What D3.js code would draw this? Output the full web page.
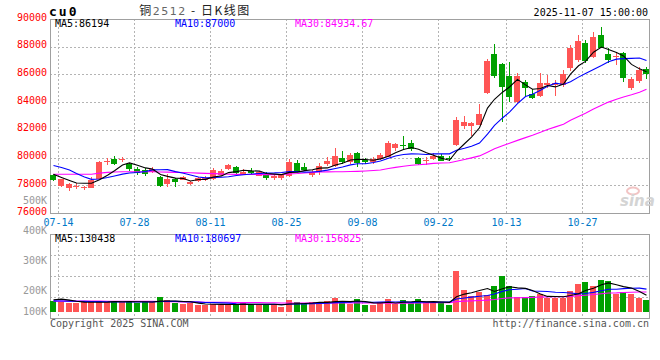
<!DOCTYPE html>
<html><head><meta charset="utf-8">
<script src="https://cdn.jsdelivr.net/npm/d3@7"></script>
<style>html,body{margin:0;padding:0;background:#fff;}svg{display:block;}</style>
</head><body>
<svg id="c" width="660" height="360"></svg>
<script>
// ---------------- data ----------------
const dates = ["07-14","07-15","07-16","07-17","07-18","07-21","07-22","07-23","07-24","07-25",
"07-28","07-29","07-30","07-31","08-01","08-04","08-05","08-06","08-07","08-08",
"08-11","08-12","08-13","08-14","08-15","08-18","08-19","08-20","08-21","08-22",
"08-25","08-26","08-27","08-28","08-29","09-01","09-02","09-03","09-04","09-05",
"09-08","09-09","09-10","09-11","09-12","09-15","09-16","09-17","09-18","09-19",
"09-22","09-23","09-24","09-25","09-26","09-29","09-30","10-09","10-10","10-13",
"10-14","10-15","10-16","10-17","10-20","10-21","10-22","10-23","10-24","10-27",
"10-28","10-29","10-30","10-31","11-03","11-04","11-05","11-06","11-07"];
const tickLabels = ["07-14","07-28","08-11","08-25","09-08","09-22","10-13","10-27"];
const open = [78740,77970,77830,77900,77810,77800,78430,79720,79880,79880,
79510,79180,79100,78950,78620,78090,78450,78380,78090,78310,
78400,78440,78740,79150,79340,78750,79000,78700,78750,78520,
78500,78670,79580,79340,78750,78980,79560,79390,79990,79700,
80350,79830,79700,79880,80060,80710,80930,81030,79990,79780,
79880,80110,80000,80910,82300,82280,82350,84640,87470,86750,
85890,84030,85480,84590,84440,85240,85250,85240,86440,87040,
88290,87280,88850,87470,87240,87570,85000,85550,86370];
const high = [78850,78480,78150,78140,77970,78580,79780,79990,80140,80060,
79590,79300,79250,79300,78650,78820,78510,78650,78290,78600,
78640,79250,79200,79560,79400,79140,79240,79000,78930,78780,
78850,79880,79830,79640,79100,79590,80020,80710,80500,80300,
80430,79950,80020,80300,81220,81030,81560,81270,80060,80060,
80350,80260,80140,82950,83000,82560,83860,87090,88200,86850,
86880,86080,85600,84930,86080,85960,85600,86320,88130,88850,
88480,89080,89400,87890,87570,87640,85790,86560,86560];
const low = [78300,77900,77620,77760,77660,77780,78380,79440,79470,79700,
79050,78740,78650,78900,77850,77900,77900,78350,78000,78240,
78280,78400,78700,79100,78800,78720,78750,78650,78400,78400,
78400,78600,78940,79100,78620,78740,79390,79350,79540,79560,
79340,79520,79540,79830,80020,80500,80600,80500,79460,79460,
79850,79730,79780,80840,82040,81560,82350,84600,85720,82590,
84030,83920,84390,84250,84390,85000,84440,85120,86270,86920,
86850,87160,87890,86800,86680,85480,84880,85400,85650];
const close = [78380,78430,78120,77950,77850,78400,79700,79750,79540,79920,
79160,78870,78780,79150,77950,78460,78260,78620,78260,78500,
78500,79100,79030,79440,78860,78980,78900,78940,78560,78640,
78810,79700,79030,79100,78980,79390,79770,80110,79680,80160,
79630,79700,79880,80160,81070,80960,80860,80600,79510,79800,
80100,79750,79880,82710,82550,82470,83140,86990,85890,85100,
84350,85890,85000,84300,85400,85400,85400,86030,87890,88400,
86990,88700,87900,87040,87300,85720,85650,86300,86000];
const volume = [86000,75000,70000,65000,81000,81000,75000,75000,86000,75000,
86000,70000,75000,75000,113000,89000,70000,59000,65000,56000,
54000,59000,54000,59000,56000,65000,54000,59000,59000,54000,
40000,89000,73000,65000,78000,70000,81000,105000,81000,62000,
97000,54000,54000,73000,97000,62000,89000,70000,97000,69780,
73000,73000,56000,325000,175000,129000,161000,137000,208000,285000,
208000,116000,116000,124000,143000,110000,110000,110000,169000,218000,
236000,204000,252000,244780,142190,160000,145000,111000,94000];
// moving-average values before enough days are on the chart
const ma5Head = [78790,78560,78340,78160];
const ma10Head = [79430,79290,79100,78850,78600,78430,78450,78560,78670];
const ma30Head = [78800,78800,78800,78800,78800,78800,78880,78930,78960,78980,
78980,78980,78980,78980,78960,78950,78930,78920,78900,78880,
78860,78840,78820,78800,78790,78780,78780,78770,78770];
const vma5Head = [95000,100000,92000,83000];
const vma10Head = [86000,85000,84000,83000,82000,81000,80000,79000,78000];
const vma30Head = [84000,84000,84000,84000,84000,84000,84000,83000,83000,83000,
83000,82000,82000,82000,81000,80000,79000,78000,77000,76000,
75000,75000,74000,74000,73000,73000,72000,72000,71000];
const priceTicks = [90000,88000,86000,84000,82000,80000,78000,76000];
const volTicks = [500000,400000,300000,200000,100000];
const titleCode = "cu0", titleName = "铜", titleContract = "2512", titleKind = " - 日K线图";
const stamp = "2025-11-07 15:00:00";
const copyright = "Copyright 2025 SINA.COM", siteUrl = "http://finance.sina.com.cn";

// ---------------- helpers ----------------
function movingAvg(arr, n, head){
  return arr.map((v,i)=> i < n-1 ? head[i] : d3.sum(arr.slice(i-n+1,i+1))/n);
}
const fmt = v => String(Math.round(v*100)/100);
const N = close.length;
const ma5 = movingAvg(close,5,ma5Head), ma10 = movingAvg(close,10,ma10Head), ma30 = movingAvg(close,30,ma30Head);
const vma5 = movingAvg(volume,5,vma5Head), vma10 = movingAvg(volume,10,vma10Head), vma30 = movingAvg(volume,30,vma30Head);

const L = 50, R = 649, PT = 19, PB = 213, VT = 234, VB = 318;
const RED = "#ff5555", GREEN = "#00a000", GRID = "#b4b4b4", BORDER = "#a0a0a0";
const MONO = "'DejaVu Sans Mono', monospace";

const x = d3.scaleLinear().domain([0, N]).range([L, L + N*7.6]);
const cx = i => Math.round(x(i) + 3.4);
const yP = d3.scaleLinear().domain([76000, 90000]).range([PB, PT]);
const yV = d3.scaleLinear().domain([0, 400000]).range([311.5, 311.5 - 49.6]);
const yVLabel = d3.scaleLinear().domain([100000,200000,300000,400000,500000]).range([311,290.5,260,230,200]);
const tickIdx = tickLabels.map(t => dates.indexOf(t));
const gx = i => Math.round(x(i+1)) + 0.5;

const svg = d3.select("#c");

// ---------------- grids ----------------
const grid = svg.append("g").attr("stroke", GRID).attr("stroke-dasharray","2,2").attr("fill","none");
priceTicks.filter(v => v < 90000 && v > 76000).forEach(v=>{
  grid.append("line").attr("x1",L).attr("x2",R).attr("y1",Math.round(yP(v))+0.5).attr("y2",Math.round(yP(v))+0.5);
});
tickIdx.forEach(i=>{
  grid.append("line").attr("x1",gx(i)).attr("x2",gx(i)).attr("y1",PT).attr("y2",PB);
  grid.append("line").attr("x1",gx(i)).attr("x2",gx(i)).attr("y1",VT).attr("y2",VB);
});
d3.range(1,4).forEach(k=>{
  const yy = Math.round(VT + k*(VB-VT)/4) + 0.5;
  grid.append("line").attr("x1",L).attr("x2",R).attr("y1",yy).attr("y2",yy);
});

// ---------------- borders ----------------
svg.append("rect").attr("x",L+0.5).attr("y",PT+0.5).attr("width",R-L).attr("height",PB-PT)
  .attr("fill","none").attr("stroke",BORDER);
svg.append("rect").attr("x",L+0.5).attr("y",VT+0.5).attr("width",R-L).attr("height",VB-VT)
  .attr("fill","none").attr("stroke",BORDER);

// ---------------- watermark ----------------
const wm = svg.append("g");
wm.append("ellipse").attr("cx",633).attr("cy",191).attr("rx",6).attr("ry",3.5).attr("fill","none").attr("stroke","#f2c4c4").attr("stroke-width",2);
wm.append("text").attr("x",620).attr("y",206).attr("font-family","'DejaVu Sans', sans-serif").attr("font-size",15)
  .attr("font-style","italic").attr("font-weight","bold").attr("fill","#d4d4d4").text("sina");

// ---------------- candles ----------------
const cg = svg.append("g").attr("shape-rendering","crispEdges");
d3.range(N).forEach(i=>{
  const up = close[i] >= open[i], col = up ? RED : GREEN;
  const c = cx(i);
  const yh = Math.round(yP(high[i])), yl = Math.round(yP(low[i]));
  cg.append("rect").attr("x",c).attr("y",yh).attr("width",1).attr("height",Math.max(1,yl-yh)).attr("fill",col);
  const yt = Math.round(yP(Math.max(open[i],close[i]))), yb = Math.round(yP(Math.min(open[i],close[i])));
  cg.append("rect").attr("x",c-3).attr("y",yt).attr("width",6).attr("height",Math.max(1,yb-yt)).attr("fill",col);
});

// ---------------- volume bars ----------------
const vg = svg.append("g").attr("shape-rendering","crispEdges");
d3.range(N).forEach(i=>{
  const col = close[i] >= open[i] ? RED : GREEN;
  const yt = Math.round(yV(volume[i]));
  vg.append("rect").attr("x",cx(i)-3).attr("y",yt).attr("width",6).attr("height",Math.round(yV(0))-yt).attr("fill",col);
});

// ---------------- MA lines ----------------
function drawLine(data, yS, color){
  const line = d3.line().x((d,i)=>cx(i)+0.5).y(d=>yS(d));
  svg.append("path").attr("d",line(data)).attr("fill","none").attr("stroke",color).attr("stroke-width",1.1);
}
drawLine(ma30, yP, "#ff00ff"); drawLine(ma10, yP, "#0000ff"); drawLine(ma5, yP, "#000000");
drawLine(vma30, yV, "#ff00ff"); drawLine(vma10, yV, "#0000ff"); drawLine(vma5, yV, "#000000");

// ---------------- axes text ----------------
const t = svg.append("g").attr("font-family",MONO).attr("font-size",10);
priceTicks.forEach(v=>{
  t.append("text").attr("x",47).attr("y",yP(v)+1.5).attr("text-anchor","end").attr("fill","#ff0000").text(v);
});
volTicks.forEach(v=>{
  t.append("text").attr("x",47).attr("y",yVLabel(v)+3.6).attr("text-anchor","end").attr("fill","#999999").text(Math.round(v/1000)+"K");
});
tickIdx.forEach((idx,k)=>{
  t.append("text").attr("x",gx(idx)).attr("y",225.5).attr("text-anchor","middle").attr("fill","#0078c8").text(tickLabels[k]);
});

// legends
const last = N-1;
t.append("text").attr("x",55).attr("y",27).attr("fill","#000").text("MA5:"+fmt(ma5[last]));
t.append("text").attr("x",175).attr("y",27).attr("fill","#0000ff").text("MA10:"+fmt(ma10[last]));
t.append("text").attr("x",295).attr("y",27).attr("fill","#ff00ff").text("MA30:"+fmt(ma30[last]));
t.append("text").attr("x",55).attr("y",242).attr("fill","#000").text("MA5:"+fmt(vma5[last]));
t.append("text").attr("x",175).attr("y",242).attr("fill","#0000ff").text("MA10:"+fmt(vma10[last]));
t.append("text").attr("x",295).attr("y",242).attr("fill","#ff00ff").text("MA30:"+fmt(vma30[last]));

// header
svg.append("text").attr("x",49).attr("y",15.5).attr("font-family",MONO).attr("font-size",13).attr("font-weight","bold")
  .attr("letter-spacing",2).attr("fill","#000").text(titleCode);
const ht = svg.append("text").attr("x",195).attr("y",15).attr("text-anchor","middle")
  .attr("font-family","'Noto Sans CJK SC', sans-serif").attr("font-size",12).attr("letter-spacing",1.5).attr("fill","#222");
ht.append("tspan").text(titleName);
ht.append("tspan").attr("fill","#666").attr("font-family","'DejaVu Sans', sans-serif").attr("font-size",11).text(titleContract);
ht.append("tspan").text(titleKind);
t.append("text").attr("x",648).attr("y",15.5).attr("text-anchor","end").attr("fill","#000").text(stamp);

// footer
t.append("text").attr("x",50).attr("y",327).attr("fill","#555").text(copyright);
t.append("text").attr("x",649).attr("y",327).attr("text-anchor","end").attr("fill","#555").text(siteUrl);
</script>
</body></html>
